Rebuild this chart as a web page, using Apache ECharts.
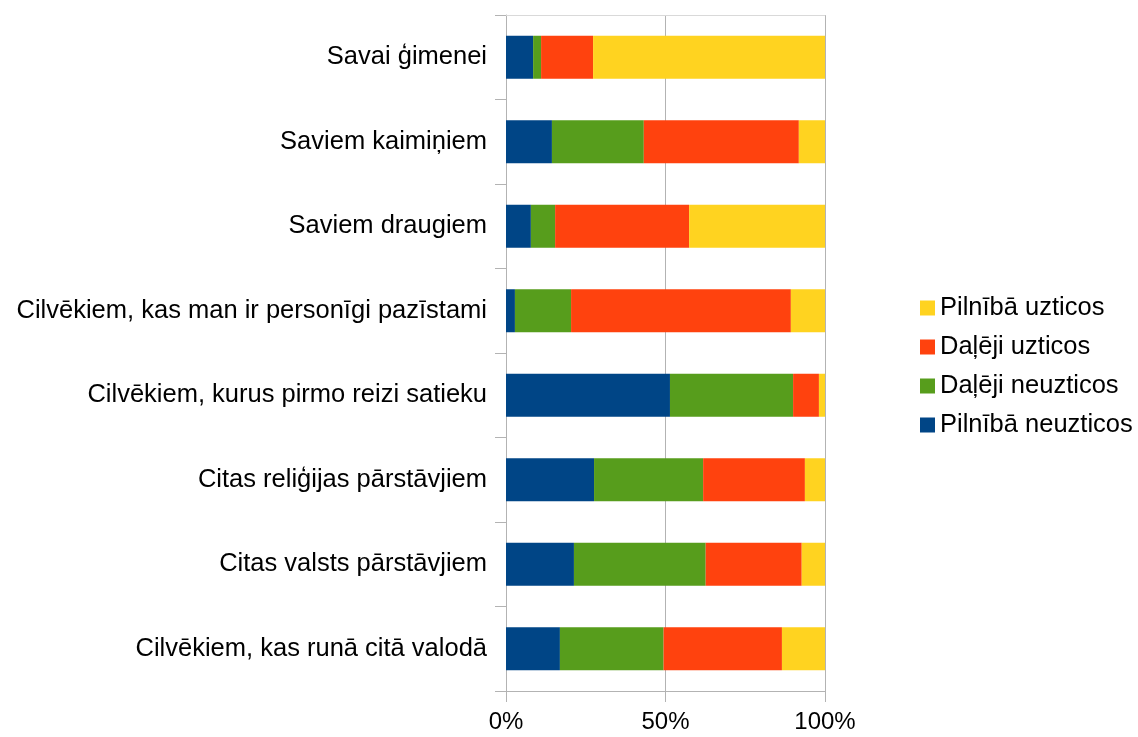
<!DOCTYPE html>
<html>
<head>
<meta charset="utf-8">
<script src="https://cdn.jsdelivr.net/npm/echarts@6/dist/echarts.min.js"></script>
<style>
  html, body { margin: 0; padding: 0; background: #fff; }
  #chart { width: 1138px; height: 737px; }
</style>
</head>
<body>
<div id="chart"></div>
<script>
// kategorijas (no augšas uz leju)
var categories = [
  'Savai ģimenei',
  'Saviem kaimiņiem',
  'Saviem draugiem',
  'Cilvēkiem, kas man ir personīgi pazīstami',
  'Cilvēkiem, kurus pirmo reizi satieku',
  'Citas reliģijas pārstāvjiem',
  'Citas valsts pārstāvjiem',
  'Cilvēkiem, kas runā citā valodā'
];
// procenti, nolasīti no attēla
var pilnibaNeuzticos = [8.5, 14.4, 7.8, 2.8, 51.4, 27.6, 21.3, 16.9];
var dalejiNeuzticos  = [2.5, 28.8, 7.6, 17.6, 38.6, 34.2, 41.3, 32.5];
var dalejiUzticos    = [16.3, 48.6, 42.0, 68.9, 8.1, 31.9, 30.1, 37.1];
var pilnibaUzticos   = [72.7, 8.2, 42.6, 10.7, 1.9, 6.3, 7.3, 13.5];
var xTicks = [0, 50, 100];

var font = 'Liberation Sans, Arial, sans-serif';
var grey = '#b3b3b3';

var myChart = echarts.init(document.getElementById('chart'));

function bar(name, data, color) {
  return {
    name: name,
    type: 'bar',
    stack: 'total',
    barWidth: 43,
    itemStyle: { color: color },
    data: data
  };
}

var option = {
  animation: false,
  textStyle: { fontFamily: font },
  grid: { left: 506, right: 313, top: 15, bottom: 46 },
  legend: {
    orient: 'vertical',
    left: 915,
    top: 290,
    itemWidth: 15,
    itemHeight: 15,
    itemGap: 13,
    icon: 'rect',
    textStyle: { fontSize: 25.5, color: '#000', fontFamily: font },
    data: ['Pilnībā uzticos', 'Daļēji uzticos', 'Daļēji neuzticos', 'Pilnībā neuzticos']
  },
  xAxis: [
    {
      type: 'value',
      min: xTicks[0],
      max: xTicks[xTicks.length - 1],
      interval: 50,
      axisLine: { show: true, lineStyle: { color: grey } },
      axisTick: { show: true, length: 11, lineStyle: { color: grey } },
      splitLine: { show: true, lineStyle: { color: grey } },
      axisLabel: { fontSize: 24, color: '#000', margin: 19, formatter: '{value}%' }
    },
    {
      type: 'value',
      position: 'top',
      min: 0,
      max: 100,
      axisLine: { show: true, lineStyle: { color: '#d9d9d9' } },
      axisTick: { show: false },
      splitLine: { show: false },
      axisLabel: { show: false }
    }
  ],
  yAxis: {
    type: 'category',
    inverse: true,
    data: categories,
    axisLine: { show: true, lineStyle: { color: grey } },
    axisTick: { show: true, length: 11, lineStyle: { color: grey } },
    axisLabel: { fontSize: 25.5, color: '#000', margin: 19 }
  },
  series: [
    bar('Pilnībā neuzticos', pilnibaNeuzticos, '#004586'),
    bar('Daļēji neuzticos', dalejiNeuzticos, '#579d1c'),
    bar('Daļēji uzticos', dalejiUzticos, '#ff420e'),
    bar('Pilnībā uzticos', pilnibaUzticos, '#ffd320')
  ]
};

myChart.setOption(option);
</script>
</body>
</html>
